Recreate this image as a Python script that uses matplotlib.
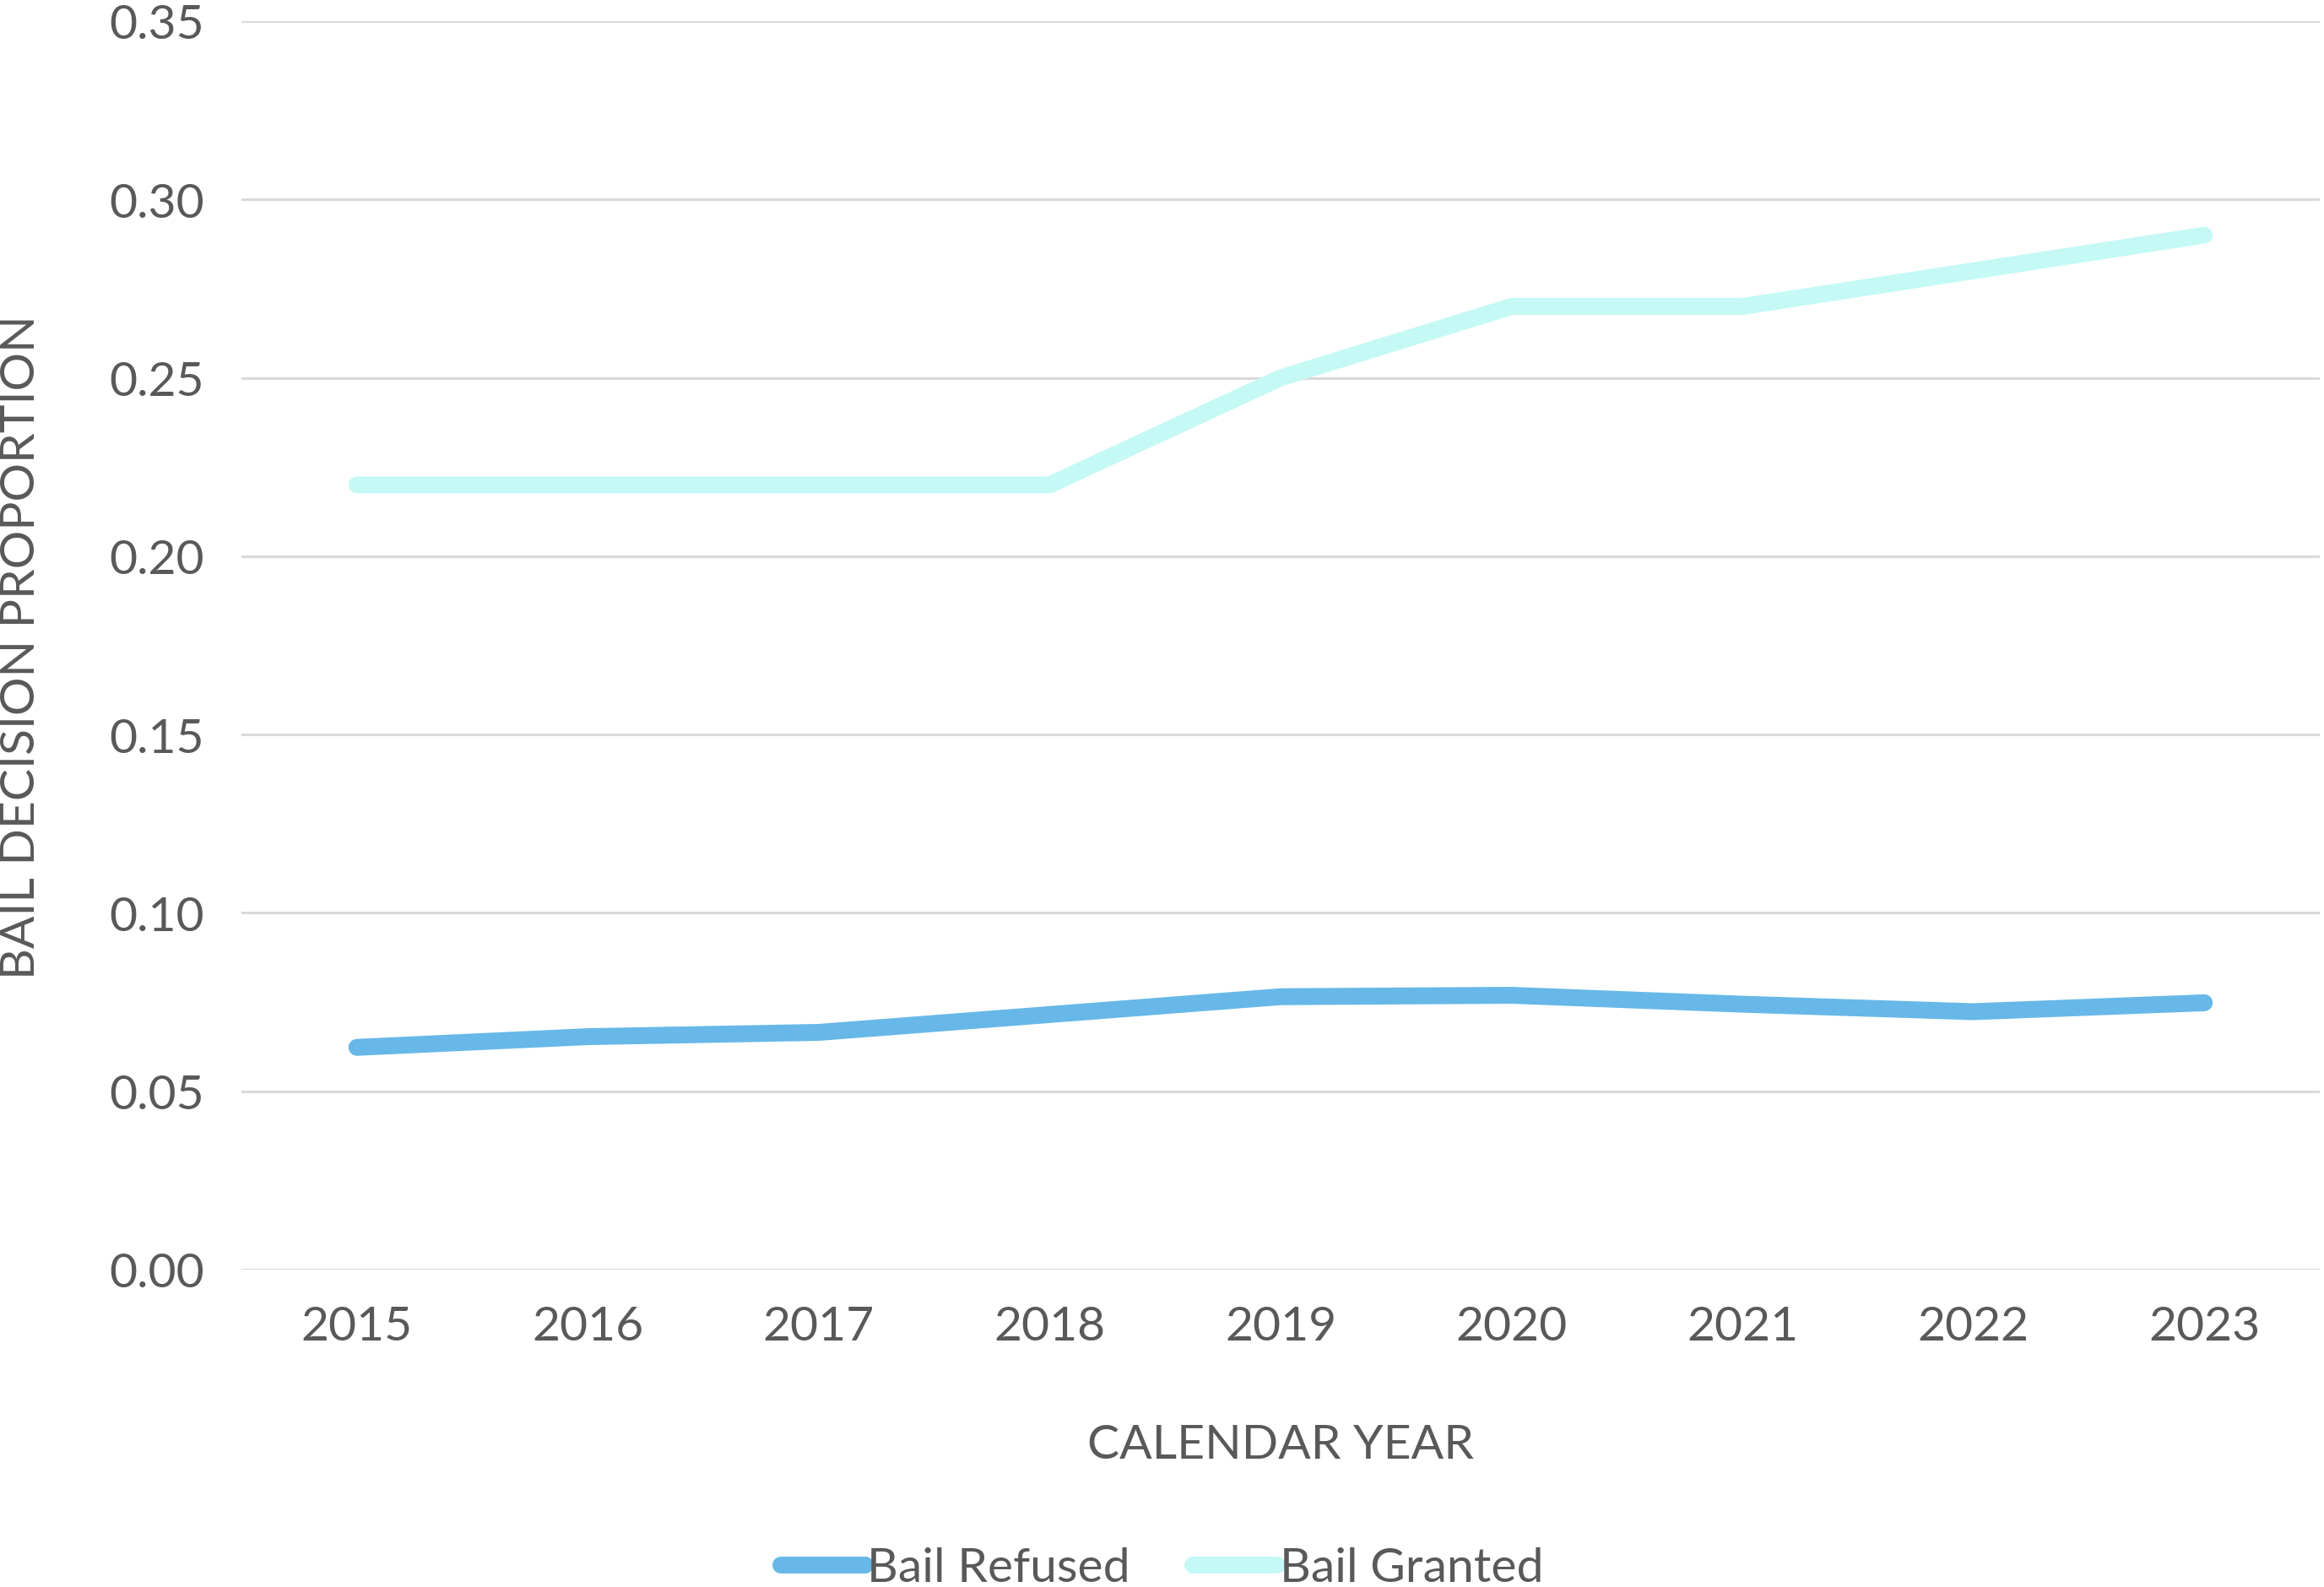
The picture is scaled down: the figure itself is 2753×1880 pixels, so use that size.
import matplotlib
matplotlib.use("Agg")
import matplotlib.pyplot as plt

# data
years = ["2015", "2016", "2017", "2018", "2019", "2020", "2021", "2022", "2023"]
bail_refused = [0.0623, 0.0653, 0.0665, 0.0715, 0.0765, 0.0769, 0.0744, 0.0723, 0.0748]
bail_granted = [0.22, 0.22, 0.22, 0.22, 0.25, 0.27, 0.27, 0.28, 0.29]
y_ticks = [0.00, 0.05, 0.10, 0.15, 0.20, 0.25, 0.30, 0.35]

TEXT = "#595959"
GRID = "#d9d9d9"
plt.rcParams['font.family'] = ['Lato', 'DejaVu Sans']

W, H = 2753, 1881
fig = plt.figure(figsize=(W / 200, H / 200), dpi=200)
ax = fig.add_axes([286 / W, 1 - 1505 / H, (2748 - 286) / W, (1505 - 26) / H])

x = list(range(len(years)))
ax.plot(x, bail_refused, color="#67b8e8", lw=7.2, solid_capstyle="round",
        solid_joinstyle="round", label="Bail Refused", zorder=3)
ax.plot(x, bail_granted, color="#c5f9f5", lw=7.2, solid_capstyle="round",
        solid_joinstyle="round", label="Bail Granted", zorder=3)

ax.set_xlim(-0.5, len(years) - 0.5)
ax.set_ylim(0, 0.35)
ax.set_xticks(x)
ax.set_xticklabels(years)
ax.set_yticks(y_ticks)
ax.set_yticklabels([f"{v:.2f}" for v in y_ticks])
ax.tick_params(axis="both", length=0, labelsize=20.5, labelcolor=TEXT)
ax.tick_params(axis="x", pad=15)
ax.tick_params(axis="y", pad=16)
ax.grid(axis="y", color=GRID, lw=1.1, zorder=0)
ax.set_axisbelow(True)
for s in ax.spines.values():
    s.set_visible(False)

fig.text(26 / W, 1 - 767 / H, "BAIL DECISION PROPORTION", rotation=90,
         ha="center", va="center", fontsize=20.5, color=TEXT)
fig.text(1517 / W, 1 - 1713 / H, "CALENDAR YEAR", ha="center", va="center",
         fontsize=20.5, color=TEXT)

leg = fig.legend(loc="center", bbox_to_anchor=(0.5, 1 - 1859 / H), ncol=2,
                 frameon=False, fontsize=20.5, handlelength=1.75,
                 handletextpad=0.05, columnspacing=1.3)
for t in leg.get_texts():
    t.set_color(TEXT)
for ln in leg.get_lines():
    ln.set_solid_capstyle("round")

fig.savefig("out.png", dpi=200, facecolor="white")
